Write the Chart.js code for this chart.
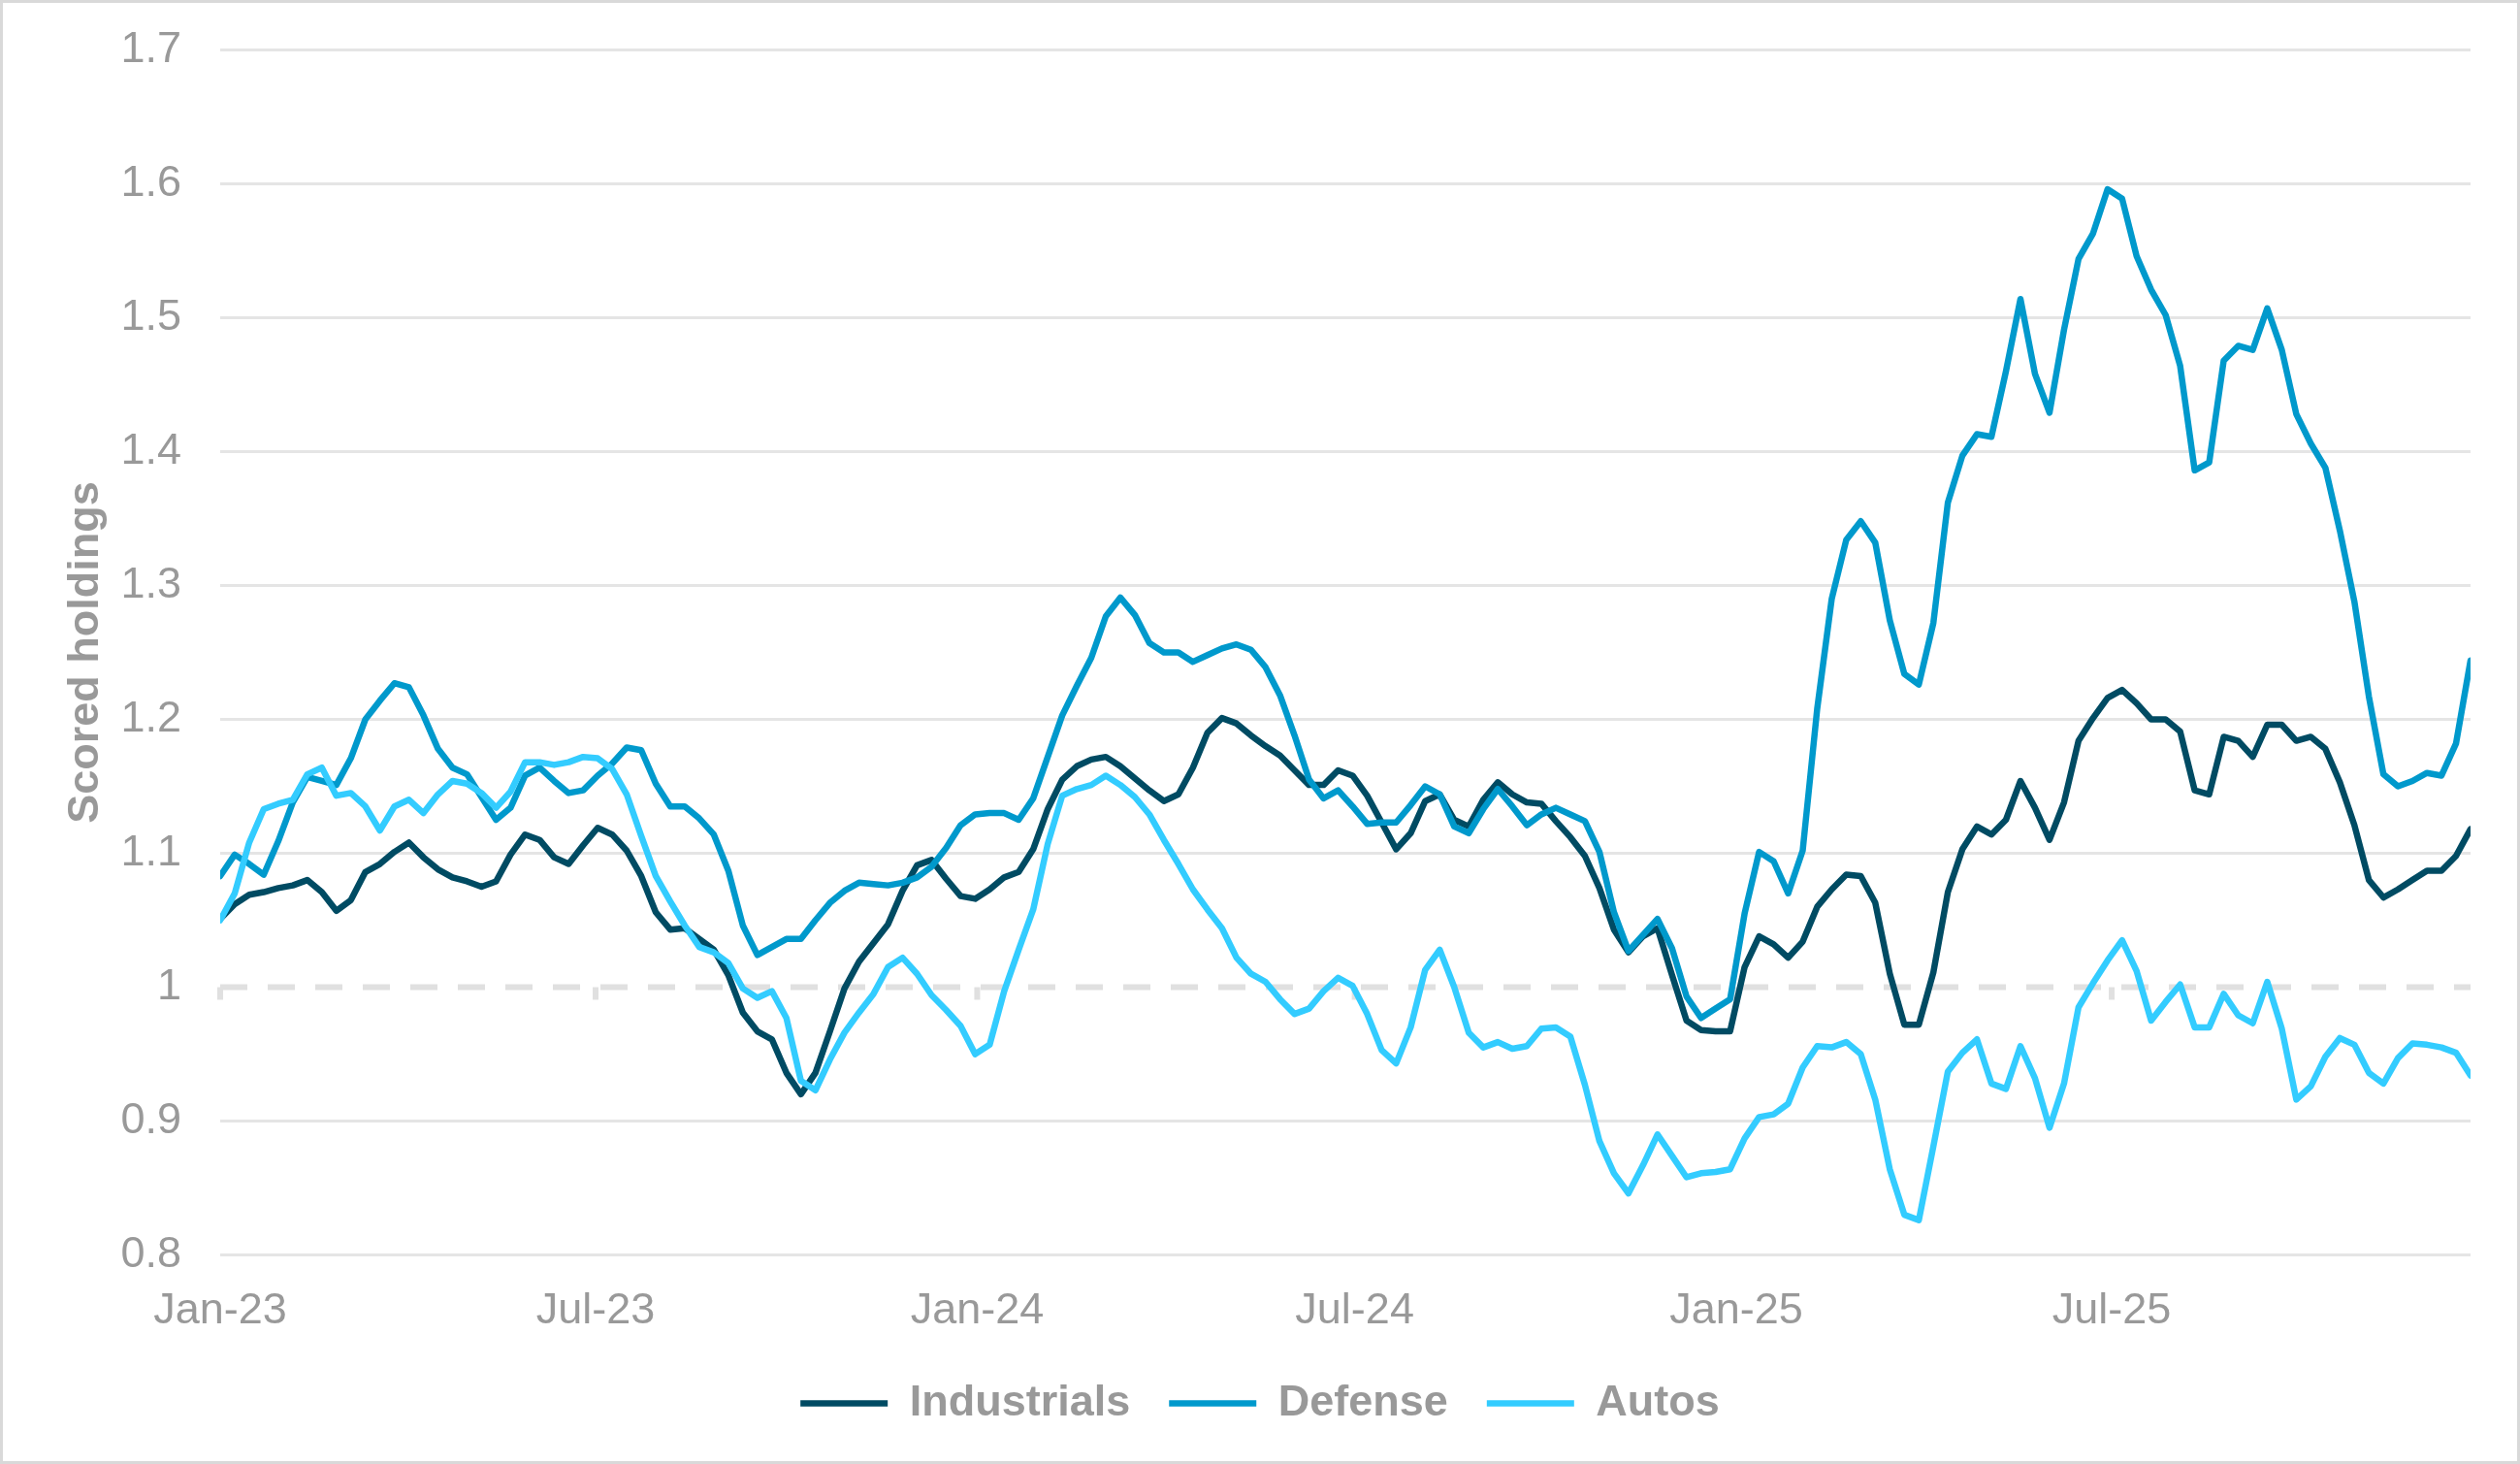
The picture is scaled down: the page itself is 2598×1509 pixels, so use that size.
<!DOCTYPE html>
<html>
<head>
<meta charset="utf-8">
<title>Scored holdings</title>
<script src="https://cdn.jsdelivr.net/npm/chart.js@4.4.1/dist/chart.umd.min.js"></script>
<style>
  html, body { margin: 0; padding: 0; background: #fff; }
  canvas { display: block; }
</style>
</head>
<body>
<canvas id="chart" width="2598" height="1509"></canvas>
<script>
// weekly observations, first one on the Jan-23 tick
const startDate = [2023, 0, 1];
const tickLabels = ['Jan-23', 'Jul-23', 'Jan-24', 'Jul-24', 'Jan-25', 'Jul-25'];

const industrials = [
  1.051, 1.062, 1.069, 1.071, 1.074, 1.076, 1.080, 1.071, 1.057, 1.065,
  1.086, 1.092, 1.101, 1.108, 1.097, 1.088, 1.082, 1.079, 1.075, 1.079,
  1.099, 1.114, 1.110, 1.097, 1.092, 1.106, 1.119, 1.114, 1.102, 1.083,
  1.056, 1.043, 1.044, 1.036, 1.028, 1.009, 0.981, 0.967, 0.961, 0.936,
  0.920, 0.936, 0.967, 0.999, 1.019, 1.033, 1.047, 1.072, 1.091, 1.095,
  1.081, 1.068, 1.066, 1.073, 1.082, 1.086, 1.103, 1.133, 1.155, 1.165,
  1.170, 1.172, 1.165, 1.156, 1.147, 1.139, 1.144, 1.164, 1.190, 1.201,
  1.197, 1.188, 1.180, 1.173, 1.162, 1.151, 1.151, 1.162, 1.158, 1.143,
  1.123, 1.103, 1.115, 1.139, 1.144, 1.125, 1.120, 1.140, 1.153, 1.144,
  1.138, 1.137, 1.124, 1.112, 1.098, 1.074, 1.043, 1.026, 1.038, 1.044,
  1.009, 0.975, 0.968, 0.967, 0.967, 1.015, 1.038, 1.032, 1.022, 1.034,
  1.060, 1.073, 1.084, 1.083, 1.063, 1.010, 0.972, 0.972, 1.011, 1.071,
  1.103, 1.120, 1.114, 1.125, 1.154, 1.134, 1.110, 1.138, 1.184, 1.201,
  1.216, 1.222, 1.212, 1.200, 1.200, 1.191, 1.147, 1.144, 1.187, 1.184,
  1.172, 1.196, 1.196, 1.184, 1.187, 1.178, 1.153, 1.121, 1.080, 1.067,
  1.073, 1.080, 1.087, 1.087, 1.098, 1.118
];

const defense = [
  1.083, 1.099, 1.092, 1.084, 1.109, 1.138, 1.157, 1.154, 1.151, 1.171,
  1.200, 1.214, 1.227, 1.224, 1.203, 1.178, 1.164, 1.159, 1.142, 1.125,
  1.134, 1.158, 1.164, 1.154, 1.145, 1.147, 1.158, 1.167, 1.179, 1.177,
  1.152, 1.135, 1.135, 1.126, 1.114, 1.087, 1.046, 1.024, 1.030, 1.036,
  1.036, 1.050, 1.063, 1.072, 1.078, 1.077, 1.076, 1.078, 1.082, 1.090,
  1.104, 1.121, 1.129, 1.130, 1.130, 1.125, 1.141, 1.172, 1.203, 1.225,
  1.246, 1.277, 1.291, 1.278, 1.257, 1.250, 1.250, 1.243, 1.248, 1.253,
  1.256, 1.252, 1.239, 1.218, 1.188, 1.155, 1.141, 1.147, 1.135, 1.122,
  1.123, 1.123, 1.136, 1.150, 1.144, 1.120, 1.115, 1.133, 1.148, 1.135,
  1.121, 1.129, 1.134, 1.129, 1.124, 1.101, 1.056, 1.027, 1.039, 1.051,
  1.029, 0.993, 0.977, 0.984, 0.991, 1.055, 1.101, 1.094, 1.070, 1.102,
  1.208, 1.290, 1.334, 1.348, 1.332, 1.274, 1.234, 1.226, 1.272, 1.362,
  1.397, 1.413, 1.411, 1.460, 1.514, 1.458, 1.429, 1.491, 1.544, 1.563,
  1.596, 1.589, 1.546, 1.521, 1.502, 1.464, 1.386, 1.392, 1.468, 1.479,
  1.476, 1.507, 1.476, 1.428, 1.406, 1.388, 1.341, 1.288, 1.217, 1.159,
  1.150, 1.154, 1.160, 1.158, 1.182, 1.244
];

const autos = [
  1.050, 1.070, 1.108, 1.133, 1.137, 1.140, 1.159, 1.164, 1.143, 1.145,
  1.135, 1.117, 1.135, 1.140, 1.130, 1.144, 1.154, 1.152, 1.145, 1.134,
  1.146, 1.168, 1.168, 1.166, 1.168, 1.172, 1.171, 1.163, 1.144, 1.113,
  1.083, 1.064, 1.046, 1.030, 1.026, 1.018, 0.999, 0.992, 0.997, 0.977,
  0.930, 0.923, 0.946, 0.966, 0.981, 0.995, 1.015, 1.022, 1.010, 0.994,
  0.983, 0.971, 0.950, 0.957, 0.997, 1.028, 1.058, 1.107, 1.143, 1.148,
  1.151, 1.158, 1.151, 1.142, 1.129, 1.110, 1.092, 1.073, 1.058, 1.044,
  1.022, 1.010, 1.004, 0.991, 0.980, 0.984, 0.997, 1.007, 1.001, 0.980,
  0.953, 0.943, 0.970, 1.013, 1.028, 1.000, 0.966, 0.955, 0.959, 0.954,
  0.956, 0.969, 0.970, 0.963, 0.927, 0.885, 0.861, 0.846, 0.867, 0.890,
  0.874, 0.858, 0.861, 0.862, 0.864, 0.887, 0.903, 0.905, 0.913, 0.940,
  0.956, 0.955, 0.959, 0.950, 0.916, 0.864, 0.830, 0.826, 0.881, 0.937,
  0.951, 0.961, 0.928, 0.924, 0.956, 0.932, 0.895, 0.928, 0.985, 1.003,
  1.020, 1.035, 1.012, 0.975, 0.989, 1.002, 0.970, 0.970, 0.995, 0.979,
  0.973, 1.004, 0.969, 0.916, 0.926, 0.948, 0.962, 0.957, 0.936, 0.928,
  0.947, 0.958, 0.957, 0.955, 0.951, 0.934
];

const DAY = 86400000;
const t0 = Date.UTC(...startDate);
const monthNames = ['Jan', 'Feb', 'Mar', 'Apr', 'May', 'Jun', 'Jul', 'Aug', 'Sep', 'Oct', 'Nov', 'Dec'];
const tickDays = tickLabels.map(l => {
  const [m, yy] = l.split('-');
  return (Date.UTC(2000 + +yy, monthNames.indexOf(m), 1) - t0) / DAY;
});
const toPoints = arr => arr.map((v, i) => ({ x: i * 7, y: v }));
const lastDay = (industrials.length - 1) * 7;

const grey = '#999999';
Chart.defaults.font.family = '"Liberation Sans", Arial, sans-serif';

// white card with thin border, plus the dashed axis line at 1 with its tick marks
const frame = {
  id: 'frame',
  beforeDraw(chart) {
    const { ctx, width, height } = chart;
    ctx.save();
    ctx.fillStyle = '#ffffff';
    ctx.fillRect(0, 0, width, height);
    ctx.strokeStyle = '#d9d9d9';
    ctx.lineWidth = 3;
    ctx.strokeRect(1.5, 1.5, width - 3, height - 3);
    ctx.restore();
  },
  beforeDatasetsDraw(chart) {
    const { ctx, chartArea, scales: { x, y } } = chart;
    const py = y.getPixelForValue(1);
    ctx.save();
    ctx.strokeStyle = '#e0e0e0';
    ctx.lineWidth = 6;
    ctx.setLineDash([28, 21]);
    ctx.beginPath();
    ctx.moveTo(chartArea.left, py);
    ctx.lineTo(chartArea.right, py);
    ctx.stroke();
    ctx.setLineDash([]);
    x.ticks.forEach(t => {
      const px = x.getPixelForValue(t.value);
      ctx.beginPath();
      ctx.moveTo(px, py);
      ctx.lineTo(px, py + 13);
      ctx.stroke();
    });
    ctx.restore();
  }
};

const lineStyle = {
  borderWidth: 6.5,
  pointRadius: 0,
  tension: 0,
  fill: false,
  borderJoinStyle: 'round',
  borderCapStyle: 'round'
};

new Chart(document.getElementById('chart'), {
  type: 'line',
  data: {
    datasets: [
      { label: 'Industrials', data: toPoints(industrials), borderColor: '#004b63', backgroundColor: '#004b63', order: 3, ...lineStyle },
      { label: 'Defense', data: toPoints(defense), borderColor: '#0099cc', backgroundColor: '#0099cc', order: 2, ...lineStyle },
      { label: 'Autos', data: toPoints(autos), borderColor: '#33ccff', backgroundColor: '#33ccff', order: 1, ...lineStyle }
    ]
  },
  options: {
    responsive: false,
    devicePixelRatio: 1,
    animation: false,
    layout: { padding: { top: 51.5, left: 0, right: 0, bottom: 30 } },
    plugins: {
      tooltip: { enabled: false },
      legend: {
        position: 'bottom',
        labels: {
          usePointStyle: true,
          pointStyle: 'line',
          pointStyleWidth: 90,
          padding: 40,
          color: grey,
          font: { size: 45, weight: 'bold' },
          sort: (a, b) => a.datasetIndex - b.datasetIndex
        }
      }
    },
    scales: {
      x: {
        type: 'linear',
        min: 0,
        max: lastDay,
        grid: { display: false, drawTicks: false },
        border: { display: false },
        afterBuildTicks: s => { s.ticks = tickDays.map(v => ({ value: v })); },
        ticks: {
          autoSkip: false,
          maxRotation: 0,
          padding: 31,
          color: grey,
          font: { size: 45 },
          callback: (v, i) => tickLabels[i]
        },
        afterFit: s => { s.height = 90.5; }
      },
      y: {
        min: 0.8,
        max: 1.7,
        border: { display: false },
        grid: {
          drawTicks: false,
          lineWidth: 3,
          color: c => (c.tick && Math.abs(c.tick.value - 1) < 1e-6) ? 'rgba(0,0,0,0)' : '#e5e5e5'
        },
        ticks: {
          stepSize: 0.1,
          padding: 40,
          color: grey,
          font: { size: 45 },
          callback: v => String(Math.round(v * 10) / 10)
        },
        title: {
          display: true,
          text: 'Scored holdings',
          color: grey,
          font: { size: 45, weight: 'bold' },
          padding: { top: 62, bottom: 0 }
        },
        afterFit: s => {
          s.width = 227;
          s.paddingTop = 0;
          s.paddingBottom = 0;
        }
      },
      yRight: {
        position: 'right',
        display: true,
        grid: { display: false, drawTicks: false },
        border: { display: false },
        ticks: { display: false },
        afterFit: s => { s.width = 51; }
      }
    }
  },
  plugins: [frame]
});
</script>
</body>
</html>
